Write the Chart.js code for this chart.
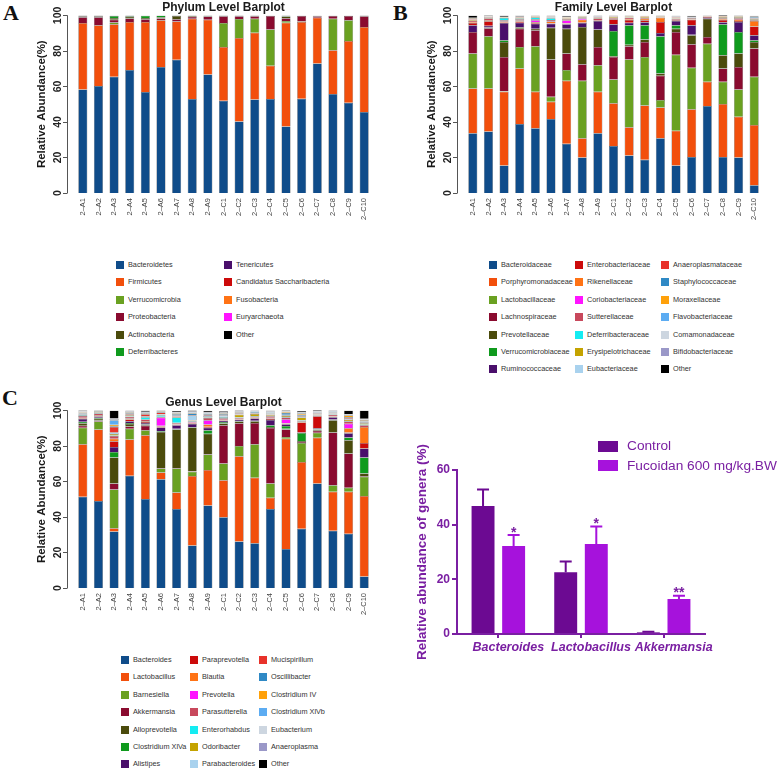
<!DOCTYPE html>
<html>
<head>
<meta charset="utf-8">
<script src="https://cdn.jsdelivr.net/npm/chart.js@4.4.1/dist/chart.umd.min.js"></script>
<style>
  body { margin: 0; background: #fff; }
  #fig { position: relative; width: 778px; height: 770px; overflow: hidden; font-family: "Liberation Sans", Arial, sans-serif; }
  canvas { position: absolute; }
  .letter { position: absolute; font: bold 22px "Liberation Serif", "DejaVu Serif", serif; line-height: 22px; color: #111; }
  .lg { position: absolute; height: 10px; line-height: 10px; font-size: 7.3px; color: #333; display: flex; align-items: center; white-space: nowrap; }
  .sw { display: inline-block; width: 8px; height: 8px; margin-right: 4px; }
  .dlg { position: absolute; height: 12px; line-height: 12px; font-size: 13.7px; color: #7a1fa2; display: flex; align-items: center; white-space: nowrap; }
  .dsw { display: inline-block; width: 20px; height: 11px; margin-right: 9px; }
</style>
</head>
<body>
<div id="fig">
  <div class="letter" style="left:3px;top:2px">A</div>
  <div class="letter" style="left:393px;top:2px">B</div>
  <div class="letter" style="left:2px;top:387px">C</div>

  <canvas id="phylum" width="390" height="230" style="left:0;top:0"></canvas>
  <canvas id="family" width="388" height="230" style="left:390px;top:0"></canvas>
  <canvas id="genus" width="390" height="230" style="left:0;top:395px"></canvas>
  <canvas id="sig" width="388" height="300" style="left:390px;top:420px"></canvas>

  <div id="legPhylum"></div>
  <div id="legFamily"></div>
  <div id="legGenus"></div>
  <div id="legSig"></div>
</div>

<script>
// ── Samples and colours ──────────────────────
const samples = ['2–A1','2–A2','2–A3','2–A4','2–A5','2–A6','2–A7','2–A8','2–A9',
                 '2–C1','2–C2','2–C3','2–C4','2–C5','2–C6','2–C7','2–C8','2–C9','2–C10'];
const yTicks = [0, 20, 40, 60, 80, 100];

const palette = ['#0f4c8a','#f24f0c','#6aa121','#8a0b2f','#4b4b0c','#0f9a1d','#4a0f6b',
                 '#cc0a0a','#ff7315','#ff14ff','#c8485c','#14ecf2','#c4a300','#a9d2ee',
                 '#e8322a','#2f89c5','#ffa10a','#5cacf2','#cdd6e0','#9a98c8','#000000'];
const phylumColors = ['#0f4c8a','#f24f0c','#6aa121','#8a0b2f','#4b4b0c','#0f9a1d',
                      '#4a0f6b','#cc0a0a','#ff7315','#ff14ff','#000000'];

// ── A: phylum (values per sample, legend order) ──
const phylumNames = ['Bacteroidetes','Firmicutes','Verrucomicrobia','Proteobacteria','Actinobacteria',
  'Deferribacteres','Tenericutes','Candidatus Saccharibacteria','Fusobacteria','Euryarchaeota','Other'];
const phyA1  = [58.3, 37.4, 0, 3.3, 0.5, 0, 0.2, 0, 0, 0, 0.3];
const phyA2  = [60.2, 34.2, 0, 4.6, 0.5, 0, 0.2, 0, 0, 0, 0.3];
const phyA3  = [65.5, 29.5, 1, 1.5, 1, 1.2, 0.1, 0, 0, 0, 0.2];
const phyA4  = [69.2, 27.1, 0, 2, 1, 0.3, 0.1, 0, 0, 0, 0.3];
const phyA5  = [56.8, 39.5, 0, 1.5, 0.8, 1.2, 0, 0, 0, 0, 0.2];
const phyA6  = [71, 26.2, 0, 1, 0.8, 1, 0, 0, 0, 0, 0];
const phyA7  = [75, 21.6, 0, 1.2, 1.8, 0, 0.1, 0, 0, 0, 0.3];
const phyA8  = [52.9, 45.2, 0, 1.2, 0.4, 0, 0, 0, 0, 0, 0.3];
const phyA9  = [66.7, 30.9, 0, 1.8, 0.3, 0, 0, 0, 0, 0, 0.3];
const phyC1  = [52, 30.2, 13.5, 3.8, 0.2, 0, 0, 0, 0, 0, 0.3];
const phyC2  = [40.2, 47.1, 10.7, 1.5, 0.2, 0, 0, 0, 0, 0, 0.3];
const phyC3  = [52.7, 37.6, 7.8, 1.4, 0.2, 0, 0, 0, 0, 0, 0.3];
const phyC4  = [52.9, 18.7, 20.5, 7.5, 0.2, 0, 0, 0, 0, 0, 0.2];
const phyC5  = [37.4, 58.5, 1, 1.5, 1, 0.3, 0, 0, 0, 0, 0.3];
const phyC6  = [53.1, 43.2, 0.3, 3, 0.2, 0, 0, 0, 0, 0, 0.2];
const phyC7  = [72.9, 25.8, 0, 0.8, 0.3, 0, 0, 0, 0, 0, 0.2];
const phyC8  = [55.7, 24.7, 17.7, 1.5, 0.2, 0, 0, 0, 0, 0, 0.2];
const phyC9  = [50.8, 34.8, 11.6, 2.4, 0.2, 0, 0, 0, 0, 0, 0.2];
const phyC10 = [45.6, 47.9, 0, 6, 0.2, 0, 0, 0, 0, 0, 0.3];
const phylumRows = [phyA1,phyA2,phyA3,phyA4,phyA5,phyA6,phyA7,phyA8,phyA9,
                    phyC1,phyC2,phyC3,phyC4,phyC5,phyC6,phyC7,phyC8,phyC9,phyC10];

// ── B: family ────────────────────────────────
const familyNames = ['Bacteroidaceae','Porphyromonadaceae','Lactobacillaceae','Lachnospiraceae',
  'Prevotellaceae','Verrucomicrobiaceae','Ruminococcaceae','Enterobacteriaceae','Rikenellaceae',
  'Coriobacteriaceae','Sutterellaceae','Deferribacteraceae','Erysipelotrichaceae','Eubacteriaceae',
  'Anaeroplasmataceae','Staphylococcaceae','Moraxellaceae','Flavobacteriaceae','Comamonadaceae',
  'Bifidobacteriaceae','Other'];
const famA1  = [33.6,25.3,19.6,12.2,0,0,3.7,1.3,0.5,0,0.8,0,0.4,0.3,0.5,0,0.3,0,0,0.2,1.2];
const famA2  = [34.6,24.3,29.3,4.5,0.5,0,1,2.5,0.5,0,1,0,0.3,0.3,0.3,0,0.2,0,0.2,0.2,0.4];
const famA3  = [15.5,41.5,0.3,19.3,8.4,1,9.7,0.3,0.5,0,0.8,1.2,0.3,0.2,0,0,0.2,0,0,0,0.8];
const famA4  = [38.9,31.2,12.1,10.3,0.8,0,2.5,0.8,0.5,0,0.8,0.3,0.3,0.2,0.3,0,0.2,0,0.2,0,0.6];
const famA5  = [36.4,20.6,25.6,9,0.9,0,2.8,0.5,0.5,1,0.5,1,0.3,0.2,0,0,0.2,0,0,0,0.5];
const famA6  = [41.7,9.7,2.8,20.9,18,0,2.2,0.3,1,0.3,0.5,1,0.3,0.2,0.2,0,0.2,0,0,0.2,0.5];
const famA7  = [27.7,35.5,6,9.3,14,0,2.5,0.3,0.3,1.5,0.8,0,0.3,0.2,0.2,0,0.2,0,0.2,0.3,0.5];
const famA8  = [20,10.8,32.4,9.3,21,0,2.2,0.3,1.5,0.8,0.5,0,0.3,0.2,0,0,0.2,0,0,0,0.3];
const famA9  = [33.6,23.4,15,10.2,9.8,0,4.8,0.3,0.3,0,0.8,0,0.3,0.2,0.2,0,0.2,0,0.2,0.2,0.5];
const famC1  = [26.5,24,13.4,12.7,0.4,14.2,3.8,2.8,0.3,0,0.5,0,0.3,0.2,0.2,0,0,0,0.2,0,0.5];
const famC2  = [21.1,15.9,38.1,7.5,0.9,10.9,1.5,1.5,0.5,0,0.8,0,0.3,0.2,0.2,0,0.2,0,0,0,0.4];
const famC3  = [18.7,30.5,27.4,8.4,1.4,8,1.7,1.2,0.8,0,0.5,0,0.3,0.2,0.2,0,0.2,0,0,0,0.3];
const famC4  = [30.8,17.4,4.1,13.7,1.3,20.9,1.9,6.2,2.4,0,0.3,0,0.2,0,0.2,0,0.2,0,0,0,0.4];
const famC5  = [15.5,19.6,42.8,12.8,1.8,1.9,2.4,0.5,0.3,0,0.5,0,0.3,0.2,0.2,0.2,0.2,0.2,0.2,0.2,0.2];
const famC6  = [20.2,26.9,23.4,13.2,5.1,0.3,5.3,3.2,0.3,0,0.5,0,0.2,0.2,0.2,0.2,0,0,0,0,0.6];
const famC7  = [49,13.6,21.5,3.8,10.2,0,0.5,0,0,0,0.5,0,0.2,0,0.2,0,0,0,0,0.2,0.3];
const famC8  = [20.2,29.9,12.5,7.5,7.5,17.4,1.2,1.2,0.5,0,0.5,0,0.5,0.2,0.2,0,0.2,0,0,0,0.8];
const famC9  = [20,23,15.3,12.7,7.5,12.2,5.6,0.5,0.8,0,0.8,0,0.6,0.2,0.2,0,0.2,0,0.2,0,0.3];
const famC10 = [4.3,34,27.1,15.9,3.7,1,2.8,5,3,0,0.5,0,0.5,0.5,0.3,0.3,0.3,0,0.2,0,0.4];
const familyRows = [famA1,famA2,famA3,famA4,famA5,famA6,famA7,famA8,famA9,
                    famC1,famC2,famC3,famC4,famC5,famC6,famC7,famC8,famC9,famC10];

// ── C: genus ─────────────────────────────────
const genusNames = ['Bacteroides','Lactobacillus','Barnesiella','Akkermansia','Alloprevotella',
  'Clostridium XlVa','Alistipes','Paraprevotella','Blautia','Prevotella','Parasutterella',
  'Enterorhabdus','Odoribacter','Parabacteroides','Mucispirillum','Oscillibacter','Clostridium IV',
  'Clostridium XlVb','Eubacterium','Anaeroplasma','Other'];
const genA1  = [51.4,29.5,9.4,1,1.5,0.8,1.5,0.3,0.5,0,1,0.3,0.5,0.5,0.2,0.3,0.3,0.3,0.2,0.3,0.4];
const genA2  = [49,40.2,4.6,0.5,1,0.5,0.8,0.3,0.3,0,1,0.3,0.3,0.3,0,0.3,0.2,0.2,0.2,0,0.4];
const genA3  = [31.8,1.8,21.9,3.4,14.6,3.1,2.8,3.2,1.5,0,1.5,0.3,0.8,0.9,3,0.5,0.8,2.5,0.8,0.3,4.5];
const genA4  = [63.2,20.4,6.1,1.2,1.5,0.5,1,1,0.5,0,1,0.3,0.5,0.5,0.5,0.3,0.3,0.3,0.3,0.2,0.4];
const genA5  = [50.1,35.9,2.8,2.5,0.5,0.3,0.8,0.5,0.5,0,1,1.2,0.5,0.3,1,0.3,0.3,0.3,0.3,0.2,0.7];
const genA6  = [61.3,3.7,2.3,0.3,20.3,0.3,2.2,0.5,0.5,4.5,0.5,0.8,0.3,0.3,1,0.3,0.3,0.3,0.2,0,0.3];
const genA7  = [44.5,9.3,13.5,0.3,21.6,0.5,1.9,0.3,0.3,0.3,0.5,3,0.3,0.3,0.5,0.8,0.3,0.3,0.3,0.2,0.7];
const genA8  = [23.9,39.1,2.4,0.3,24.7,0.3,1.6,0.3,0.3,0.3,0.5,0.5,0.3,2.6,0.3,0.8,0.3,0.3,0.5,0.3,0.5];
const genA9  = [46.4,20,8.7,0.3,11.5,1.9,1.5,0.5,1.2,2.5,1.2,0.3,0.3,0.5,0.5,0.5,0.3,0.3,0.3,0.3,0.8];
const genC1  = [39.8,20.9,9.4,21.5,1,0.8,0.8,0.3,0.3,0,0.8,0.5,0.3,0.8,0.3,0.5,0.3,0.3,0.5,0.2,0.4];
const genC2  = [26.2,48,5.8,12.8,1,0.3,0.6,0.3,0.3,0,0.5,0.3,1.5,0.3,0.3,0.3,0.3,0.3,0.3,0.2,0.5];
const genC3  = [25.2,36.9,18.8,12,1,0.3,1.2,0.3,0.3,0,0.5,0.3,1.2,0.3,0.3,0.3,0.3,0.3,0.3,0.2,0.3];
const genC4  = [44.5,6.3,8.1,31.2,0.5,1,3,0.5,0.3,0.5,0.8,0.3,0.5,0.3,0.3,0.3,0.3,0.3,0.3,0.2,0.5];
const genC5  = [21.9,62.2,0.9,4.2,0.5,1.5,1,0.3,0.3,2.2,1,0.3,0.5,0.5,0.3,1,0.3,0.3,0.3,0.3,0.5];
const genC6  = [33.3,37.7,10.7,0.5,0.5,4.6,0.3,5.6,0.5,0,0.5,0.3,1.5,0.5,0.5,0.5,0.8,0.3,0.3,0.2,0.5];
const genC7  = [58.9,25.7,2.8,1.2,0.5,0.3,0.5,6.8,0.3,0,0.3,0.3,0.3,0.3,0.3,0.3,0.2,0.2,0.3,0.2,0.6];
const genC8  = [32.3,21.9,3.7,29.6,6.9,0.5,1.2,0.3,0.3,0,0.8,0.3,0.3,0.3,0.3,0.3,0.3,0.2,0.2,0.2,0.5];
const genC9  = [30.5,23.7,2.2,19.3,7.5,1.5,2.5,0.3,2.5,2.5,1.2,0.3,0.8,0.5,0.5,0.5,0.8,0.3,0.3,0.2,2.1];
const genC10 = [6.5,45.3,10.8,0.5,1.4,9,5,3.2,9,0,1,0.3,0.8,0.5,0.3,0.3,0.5,0.3,0.3,0.3,4.7];
const genusRows = [genA1,genA2,genA3,genA4,genA5,genA6,genA7,genA8,genA9,
                   genC1,genC2,genC3,genC4,genC5,genC6,genC7,genC8,genC9,genC10];

// ── D: selected genera, mean + error ─────────
const sigGenera    = ['Bacteroides', 'Lactobacillus', 'Akkermansia'];
const controlMean  = [46.8, 22.6, 0.6];
const controlErr   = [6.1, 3.9, 0.2];
const fucoidanMean = [32.2, 32.9, 12.8];
const fucoidanErr  = [4.0, 6.4, 1.2];
const fucoidanSig  = ['*', '*', '**'];
const sigTicks     = [0, 20, 40, 60];

const PURPLE_TXT = '#7a1fa2';
const CTRL_COL   = '#6c0a92';
const FUC_COL    = '#a612dc';
const FONT       = '"Liberation Sans", Arial, sans-serif';

// R-style y axis: separate line, rotated tick labels
const rAxis = {
  id: 'rAxis',
  afterDraw(chart) {
    const y = chart.scales.y, ctx = chart.ctx;
    const ax = chart.chartArea.left - 8;
    ctx.save();
    ctx.strokeStyle = '#555';
    ctx.lineWidth = 1;
    ctx.beginPath();
    ctx.moveTo(ax + 0.5, y.getPixelForValue(yTicks[0]));
    ctx.lineTo(ax + 0.5, y.getPixelForValue(yTicks[yTicks.length - 1]));
    for (const v of yTicks) {
      const p = Math.round(y.getPixelForValue(v)) + 0.5;
      ctx.moveTo(ax + 0.5, p);
      ctx.lineTo(ax - 4, p);
    }
    ctx.stroke();
    ctx.fillStyle = '#222';
    ctx.font = `bold 10.5px ${FONT}`;
    ctx.textAlign = 'center';
    ctx.textBaseline = 'bottom';
    for (const v of yTicks) {
      ctx.save();
      ctx.translate(ax - 4, y.getPixelForValue(v));
      ctx.rotate(-Math.PI / 2);
      ctx.fillText(String(v), 0, 0);
      ctx.restore();
    }
    ctx.restore();
  },
};

function stackChart(id, title, names, colors, rows, padRight) {
  const datasets = names.map((n, k) => ({
    label: n,
    data: rows.map(r => r[k]),
    backgroundColor: colors[k],
    borderColor: 'rgba(35,35,35,0.75)',
    borderWidth: 0.5,
    barPercentage: 0.58,
    categoryPercentage: 1,
  }));
  return new Chart(document.getElementById(id), {
    type: 'bar',
    data: { labels: samples, datasets },
    options: {
      responsive: false,
      animation: false,
      layout: { padding: { top: 0, right: padRight, left: 0, bottom: 0 } },
      plugins: {
        legend: { display: false },
        tooltip: { enabled: false },
        title: {
          display: true, text: title, fullSize: false, color: '#1a1a1a',
          font: { family: FONT, size: 12, weight: 'bold' }, padding: { top: 0, bottom: 1 },
        },
      },
      scales: {
        x: {
          stacked: true,
          grid: { display: false, drawTicks: false },
          border: { display: false },
          ticks: {
            autoSkip: false, minRotation: 90, maxRotation: 90, padding: 5,
            color: '#444', font: { family: FONT, size: 7.5 },
          },
          afterFit: s => { s.height = 37; },
        },
        y: {
          stacked: true, min: 0, max: 100,
          grid: { display: false, drawTicks: false },
          border: { display: false },
          ticks: { display: false },
          title: {
            display: true, text: 'Relative Abundance(%)', color: '#1a1a1a',
            font: { family: FONT, size: 11.5, weight: 'bold' }, padding: { top: 35, bottom: 0 },
          },
          afterFit: s => { s.width = 75; },
        },
      },
    },
    plugins: [rAxis],
  });
}

stackChart('phylum', 'Phylum Level Barplot', phylumNames, phylumColors, phylumRows, 18);
stackChart('family', 'Family Level Barplot', familyNames, palette, familyRows, 16);
stackChart('genus',  'Genus Level Barplot',  genusNames,  palette, genusRows, 18);

// ── HTML legends ─────────────────────────────
function buildLegend(boxId, names, colors, colX, rowTop) {
  const box = document.getElementById(boxId);
  const perCol = Math.ceil(names.length / colX.length);
  names.forEach((n, i) => {
    const c = Math.floor(i / perCol), r = i % perCol;
    const item = document.createElement('div');
    item.className = 'lg';
    item.style.left = colX[c] + 'px';
    item.style.top = (rowTop + r * 17.4) + 'px';
    item.innerHTML = `<span class="sw" style="background:${colors[i]}"></span>${n}`;
    box.appendChild(item);
  });
}
buildLegend('legPhylum', phylumNames, phylumColors, [116, 224], 260);
buildLegend('legFamily', familyNames, palette, [489, 575, 661], 260);
buildLegend('legGenus',  genusNames,  palette, [121, 190, 259], 655);

// ── D: grouped bars with error bars ──────────
const errorBars = {
  id: 'errorBars',
  afterDatasetsDraw(chart) {
    const y = chart.scales.y, ctx = chart.ctx;
    const errs = [controlErr, fucoidanErr];
    ctx.save();
    ctx.lineWidth = 2;
    chart.data.datasets.forEach((ds, di) => {
      chart.getDatasetMeta(di).data.forEach((bar, i) => {
        const top = y.getPixelForValue(ds.data[i] + errs[di][i]);
        const base = y.getPixelForValue(ds.data[i]);
        ctx.strokeStyle = ds.backgroundColor;
        ctx.beginPath();
        ctx.moveTo(bar.x, base);
        ctx.lineTo(bar.x, top);
        ctx.moveTo(bar.x - 6, top);
        ctx.lineTo(bar.x + 6, top);
        ctx.stroke();
        if (di === 1) {
          ctx.fillStyle = PURPLE_TXT;
          ctx.font = `bold 14px ${FONT}`;
          ctx.textAlign = 'center';
          ctx.textBaseline = 'alphabetic';
          ctx.fillText(fucoidanSig[i], bar.x, top + 1.5);
        }
      });
    });
    ctx.restore();
  },
};

new Chart(document.getElementById('sig'), {
  type: 'bar',
  data: {
    labels: sigGenera,
    datasets: [
      { label: 'Control', data: controlMean, backgroundColor: CTRL_COL },
      { label: 'Fucoidan 600 mg/kg.BW', data: fucoidanMean, backgroundColor: FUC_COL },
    ],
  },
  options: {
    responsive: false,
    animation: false,
    layout: { padding: { top: 50, right: 73, left: 0, bottom: 0 } },
    datasets: { bar: { categoryPercentage: 0.74, barPercentage: 0.75 } },
    plugins: { legend: { display: false }, tooltip: { enabled: false } },
    scales: {
      x: {
        grid: { display: true, drawOnChartArea: false, offset: false, tickLength: 4, color: PURPLE_TXT, lineWidth: 2 },
        border: { color: PURPLE_TXT, width: 2 },
        ticks: {
          color: PURPLE_TXT, labelOffset: 10, padding: 2,
          autoSkip: false, minRotation: 0, maxRotation: 0,
          font: { family: FONT, size: 12.5, weight: 'bold', style: 'italic' },
        },
        afterFit: s => { s.height = 86; },
      },
      y: {
        min: 0, max: 60,
        afterBuildTicks: s => { s.ticks = sigTicks.map(v => ({ value: v })); },
        grid: { display: true, drawOnChartArea: false, tickLength: 5, color: PURPLE_TXT, lineWidth: 2 },
        border: { color: PURPLE_TXT, width: 2 },
        ticks: { color: PURPLE_TXT, padding: 2, font: { family: FONT, size: 12, weight: 'bold' } },
        title: {
          display: true, text: 'Relative abundance of genera (%)', color: PURPLE_TXT,
          font: { family: FONT, size: 13.5, weight: 'bold' }, padding: { top: 24, bottom: 0 },
        },
        afterFit: s => { s.width = 67; },
      },
    },
  },
  plugins: [errorBars],
});

// legend for D
const legSig = document.getElementById('legSig');
[['Control', CTRL_COL], ['Fucoidan 600 mg/kg.BW', FUC_COL]].forEach(([n, c], i) => {
  const item = document.createElement('div');
  item.className = 'dlg';
  item.style.left = '598px';
  item.style.top = (440 + i * 19.5) + 'px';
  item.innerHTML = `<span class="dsw" style="background:${c}"></span>${n}`;
  legSig.appendChild(item);
});
</script>
</body>
</html>
